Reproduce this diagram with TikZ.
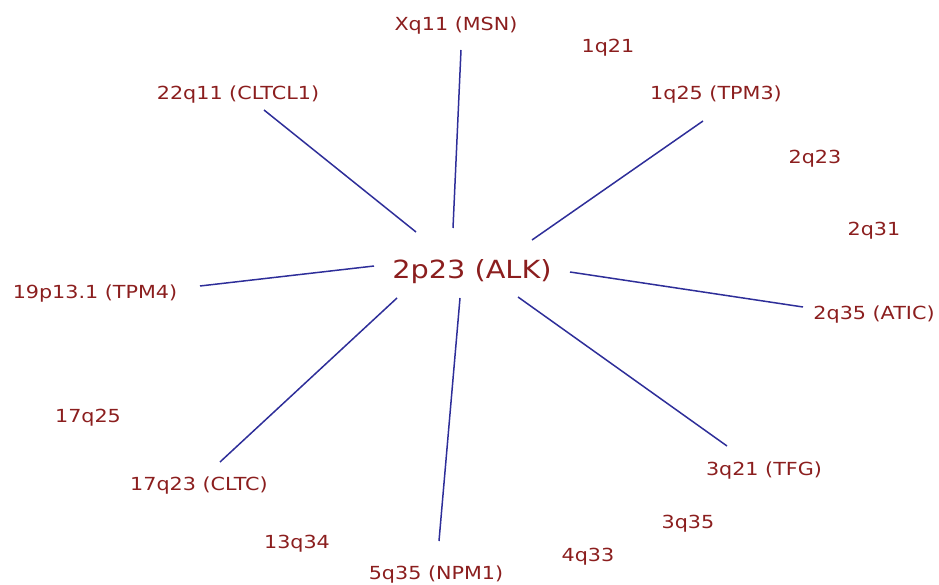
\documentclass[tikz,border=0pt]{standalone}
\usepackage{fontspec}
\setmainfont[FakeStretch=1.15]{DejaVu Sans}
\definecolor{lbl}{HTML}{8B1E1E}
\definecolor{lnk}{HTML}{2E2E99}
\begin{document}
\begin{tikzpicture}[x=1pt,y=-1pt,
  lab/.style={text=lbl,font=\fontsize{18}{20}\selectfont,inner sep=0pt,yshift=-2pt},
  hub/.style={text=lbl,font=\fontsize{25}{27}\selectfont,inner sep=0pt,yshift=-2pt},
  link/.style={draw=lnk,line width=1.5pt}]
\useasboundingbox (0,0) rectangle (939,585);
\node[hub] (alk) at (472,270) {2p23 (ALK)};
\node[lab] (msn) at (456,24) {Xq11 (MSN)};
\node[lab] (q121) at (608,46) {1q21};
\node[lab] (cltcl) at (238,93) {22q11 (CLTCL1)};
\node[lab] (tpm3) at (716,93) {1q25 (TPM3)};
\node[lab] (q223) at (815,157) {2q23};
\node[lab] (q231) at (874,229) {2q31};
\node[lab] (tpm4) at (95,292) {19p13.1 (TPM4)};
\node[lab] (atic) at (874,313) {2q35 (ATIC)};
\node[lab] (q1725) at (88,416) {17q25};
\node[lab] (tfg) at (764,469) {3q21 (TFG)};
\node[lab] (cltc) at (199,484) {17q23 (CLTC)};
\node[lab] (q335) at (688,522) {3q35};
\node[lab] (q1334) at (297,542) {13q34};
\node[lab] (q433) at (588,555) {4q33};
\node[lab] (npm) at (436,573) {5q35 (NPM1)};
\coordinate (c1a) at (461,50);  \coordinate (c1b) at (453,228);
\coordinate (c2a) at (264,110); \coordinate (c2b) at (416,232);
\coordinate (c3a) at (703,121); \coordinate (c3b) at (532,240);
\coordinate (c4a) at (200,286); \coordinate (c4b) at (374,266);
\coordinate (c5a) at (803,307); \coordinate (c5b) at (570,272);
\coordinate (c6a) at (220,462); \coordinate (c6b) at (397,298);
\coordinate (c7a) at (439,541); \coordinate (c7b) at (460,298);
\coordinate (c8a) at (727,446); \coordinate (c8b) at (518,297);
\draw[link] (c1a) -- (c1b);
\draw[link] (c2a) -- (c2b);
\draw[link] (c3a) -- (c3b);
\draw[link] (c4a) -- (c4b);
\draw[link] (c5a) -- (c5b);
\draw[link] (c6a) -- (c6b);
\draw[link] (c7a) -- (c7b);
\draw[link] (c8a) -- (c8b);
\end{tikzpicture}
\end{document}
